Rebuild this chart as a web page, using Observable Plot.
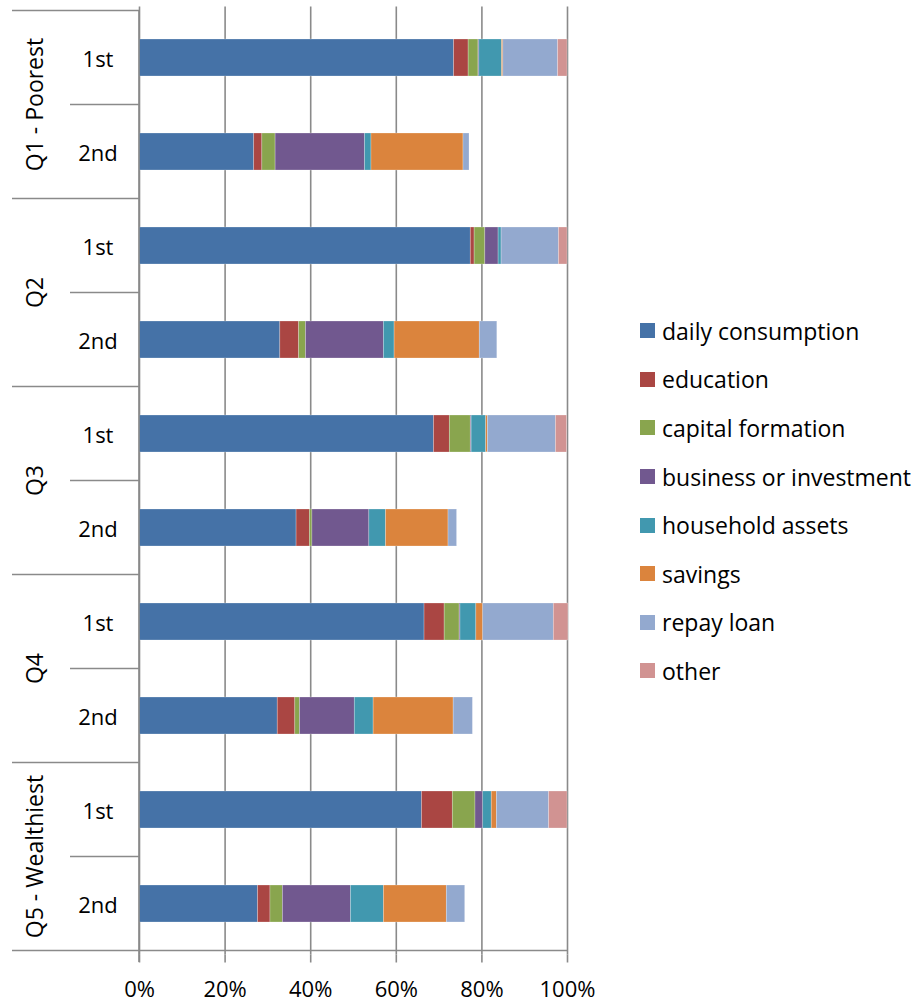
<!DOCTYPE html>
<html>
<head>
<meta charset="utf-8">
<script src="https://cdn.jsdelivr.net/npm/d3@7"></script>
<script src="https://cdn.jsdelivr.net/npm/@observablehq/plot@0.6"></script>
<style>
  html, body { margin: 0; padding: 0; background: #fff; }
  #wrap { position: relative; width: 915px; height: 1005px; font-family: "Open Sans", sans-serif; }
  #legend { position: absolute; left: 640px; top: 306.5px; }
  .li { display: flex; align-items: center; height: 48.6px; font-size: 23px; color: #000; white-space: nowrap; }
  .sw { width: 15px; height: 15px; margin-right: 7px; flex: none; }
</style>
</head>
<body>
<div id="wrap"><div id="legend"></div></div>
<script>
const quintiles = ["Q1 - Poorest", "Q2", "Q3", "Q4", "Q5 - Wealthiest"];
const ranks = ["1st", "2nd"];
const categories = ["daily consumption", "education", "capital formation", "business or investment", "household assets", "savings", "repay loan", "other"];
const colors = ["#4572A7", "#AA4643", "#89A54E", "#71588F", "#4198AF", "#DB843D", "#93A9CF", "#D19392"];
const tickValues = [0, 20, 40, 60, 80, 100];

// values per bar, order: Q1 1st, Q1 2nd, Q2 1st, Q2 2nd, ... Q5 2nd (percent)
const dailyConsumption = [73.5, 26.8, 77.4, 32.9, 68.8, 36.7, 66.6, 32.3, 66.0, 27.7];
const education        = [3.4, 1.9, 0.9, 4.4, 3.7, 3.1, 4.7, 4.1, 7.2, 2.9];
const capitalFormation = [2.3, 3.1, 2.5, 1.6, 4.9, 0.6, 3.5, 1.1, 5.3, 2.9];
const business         = [0.2, 20.9, 3.1, 18.2, 0.2, 13.3, 0.2, 12.8, 1.8, 15.9];
const householdAssets  = [5.3, 1.5, 0.7, 2.5, 3.4, 3.9, 3.7, 4.4, 2.0, 7.7];
const savings          = [0.3, 21.5, 0.0, 19.9, 0.4, 14.6, 1.6, 18.7, 1.2, 14.7];
const repayLoan        = [12.8, 1.4, 13.4, 4.1, 15.9, 2.0, 16.5, 4.5, 12.2, 4.3];
const other            = [2.2, 0.0, 2.0, 0.0, 2.6, 0.0, 3.4, 0.0, 4.3, 0.0];

const series = [dailyConsumption, education, capitalFormation, business, householdAssets, savings, repayLoan, other];

const bars = [];
quintiles.forEach((q, qi) => ranks.forEach((r, ri) => bars.push({q, r, key: q + "|" + r, i: qi * 2 + ri})));
const rows = [];
bars.forEach(b => series.forEach((s, si) => rows.push({key: b.key, cat: categories[si], value: s[b.i]})));

const W = 915, H = 1005;
const chart = Plot.plot({
  width: W, height: H,
  marginLeft: 139, marginRight: 348, marginTop: 6.5, marginBottom: 50.5,
  style: {fontFamily: "Open Sans, sans-serif", fontSize: "22px", color: "#000", background: "#fff"},
  x: {domain: [0, 100], label: null},
  y: {domain: bars.map(b => b.key), paddingInner: 0.61, paddingOuter: 0.305, axis: null},
  color: {domain: categories, range: colors},
  marks: [
    Plot.gridX(tickValues, {stroke: "#8a8a8a", strokeOpacity: 1, strokeWidth: 1.6}),
    Plot.barX(rows, Plot.stackX({x: "value", y: "key", fill: "cat", order: categories, stroke: "#fff", strokeOpacity: 0.35, strokeWidth: 0.7})),
    Plot.axisX({ticks: tickValues, tickFormat: d => d + "%", tickSize: 8, tickPadding: 18, stroke: "#8a8a8a", strokeWidth: 1.6, fontSize: 22, label: null})
  ]
});

document.getElementById("wrap").prepend(chart);

// hierarchical category axis on the left, placed through the y scale
const ys = chart.scale("y");
const step = ys.step;
const svg = d3.select(chart);
const g = svg.append("g").attr("stroke", "#8a8a8a").attr("stroke-width", 1.6);
const half = ys.bandwidth / 2;
const top0 = ys.apply(bars[0].key) + half - step / 2;
const xs = chart.scale("x");
const x0 = xs.apply(0), x100 = xs.apply(100);
g.append("line").attr("x1", x0).attr("x2", x0).attr("y1", top0).attr("y2", H - 43);
bars.forEach(b => {
  const cy = ys.apply(b.key) + half;
  const yTop = cy - step / 2;
  g.append("line").attr("x1", b.r === "1st" ? 12 : 70).attr("x2", x0).attr("y1", yTop).attr("y2", yTop);
  svg.append("text").attr("x", 98).attr("y", cy).attr("text-anchor", "middle")
    .attr("dominant-baseline", "central").attr("font-size", 22).attr("fill", "#000").text(b.r);
  if (b.r === "2nd") {
    svg.append("text").attr("transform", `translate(34,${yTop}) rotate(-90)`).attr("text-anchor", "middle")
      .attr("dominant-baseline", "central").attr("font-size", 23).attr("fill", "#000").text(b.q);
  }
});
const bottomY = ys.apply(bars[bars.length - 1].key) + half + step / 2;
g.append("line").attr("x1", 12).attr("x2", x100).attr("y1", bottomY).attr("y2", bottomY);

// legend
const legend = d3.select("#legend");
categories.forEach((c, i) => {
  const li = legend.append("div").attr("class", "li");
  li.append("div").attr("class", "sw").style("background", colors[i]);
  li.append("span").text(c);
});
</script>
</body>
</html>
